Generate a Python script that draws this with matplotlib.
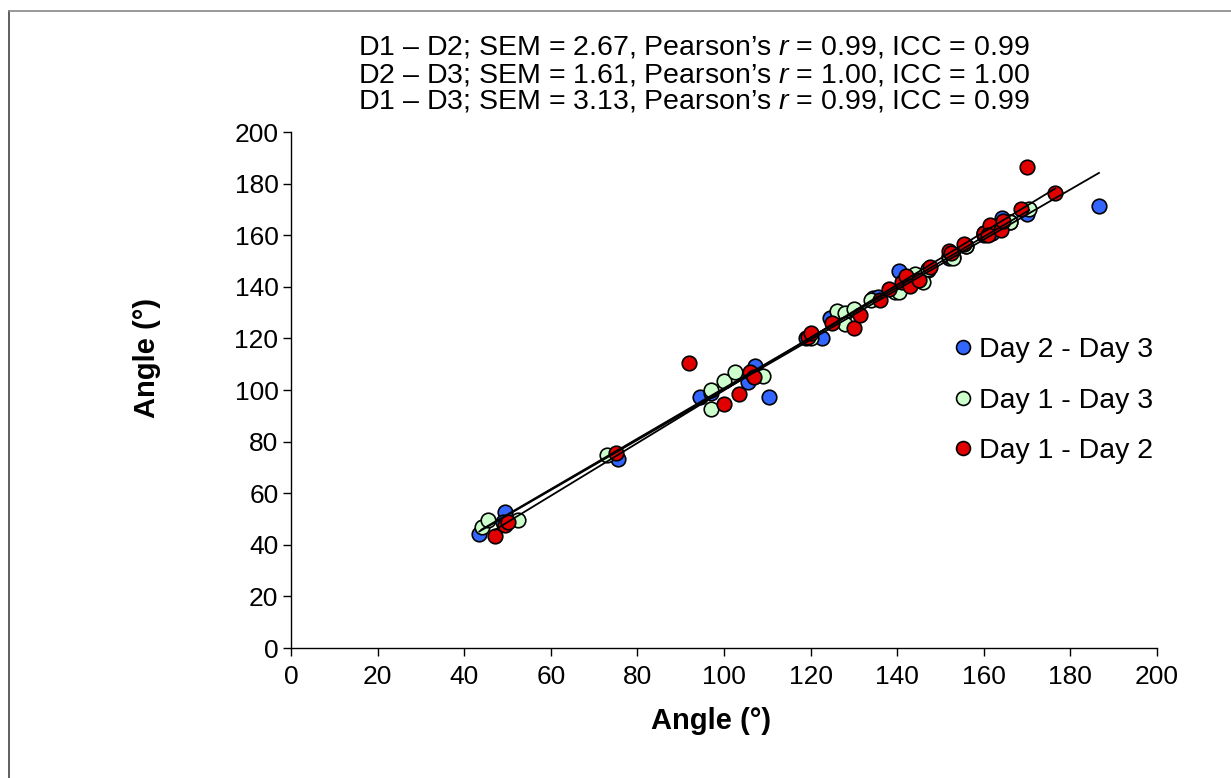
#!/usr/bin/env python3
"""Agreement scatter: angle measured on different days with linear trendlines."""

import matplotlib
matplotlib.use("Agg")
import matplotlib.pyplot as plt
import numpy as np
from matplotlib.lines import Line2D

FONT = ["Liberation Sans", "DejaVu Sans"]
plt.rcParams["font.family"] = FONT
plt.rcParams["mathtext.fontset"] = "custom"
plt.rcParams["mathtext.it"] = "Liberation Sans:italic"
plt.rcParams["mathtext.rm"] = "Liberation Sans"

# Day 2 - Day 3
d23_x = [43.5, 49.5, 49.0, 75.5, 94.5, 97.0, 105.5, 107.2, 110.4, 119.0, 122.6,
         124.5, 134.4, 135.5, 140.4, 142.0, 145.0, 147.1, 152.0, 153.0, 156.0,
         160.0, 162.0, 164.2, 166.0, 170.0, 186.6]
d23_y = [44.2, 52.7, 49.0, 73.3, 97.3, 99.0, 103.1, 109.3, 97.3, 120.0, 120.2,
         127.9, 135.7, 136.0, 146.1, 141.0, 144.0, 146.5, 151.0, 151.5, 156.0,
         160.0, 161.0, 166.6, 165.0, 168.2, 171.3]

# Day 1 - Day 3
d13_x = [44.0, 45.5, 52.5, 73.0, 97.0, 97.0, 100.0, 102.5, 109.0, 120.0, 126.0,
         128.0, 128.0, 130.0, 134.0, 139.5, 140.5, 143.0, 144.0, 146.0, 147.0,
         152.0, 153.0, 156.0, 160.0, 166.0, 170.5]
d13_y = [47.0, 49.5, 49.5, 75.0, 100.0, 92.5, 103.5, 107.0, 105.5, 120.0, 130.5,
         130.0, 125.5, 131.5, 135.0, 138.0, 138.0, 143.0, 145.0, 142.0, 147.0,
         152.0, 151.0, 156.0, 161.0, 165.0, 170.0]

# Day 1 - Day 2
d12_x = [47.0, 49.5, 50.0, 75.0, 92.0, 100.0, 103.5, 106.0, 107.0, 119.5, 120.0,
         125.0, 130.0, 131.5, 136.0, 138.0, 141.0, 142.0, 143.0, 145.0, 147.5,
         152.0, 152.5, 155.5, 160.0, 161.5, 161.0, 164.0, 164.5, 168.5, 170.0,
         176.5]
d12_y = [43.5, 47.5, 49.0, 75.5, 110.5, 94.5, 98.5, 107.0, 105.0, 120.5, 122.0,
         126.0, 124.0, 129.0, 135.0, 139.0, 142.0, 144.0, 140.5, 142.5, 147.5,
         154.0, 153.0, 156.5, 161.0, 164.0, 160.0, 162.0, 165.5, 170.0, 186.5,
         176.5]

SERIES = [
    ("Day 2 - Day 3", d23_x, d23_y, "#3366ff"),
    ("Day 1 - Day 3", d13_x, d13_y, "#ccffcc"),
    ("Day 1 - Day 2", d12_x, d12_y, "#e00000"),
]

STATS = [
    "D1 \u2013 D2; SEM = 2.67, Pearson\u2019s $\\it{r}$ = 0.99, ICC = 0.99",
    "D2 \u2013 D3; SEM = 1.61, Pearson\u2019s $\\it{r}$ = 1.00, ICC = 1.00",
    "D1 \u2013 D3; SEM = 3.13, Pearson\u2019s $\\it{r}$ = 0.99, ICC = 0.99",
]


def main():
    W, H = 1231, 778
    fig = plt.figure(figsize=(W / 100, H / 100), dpi=100)
    ax = fig.add_axes([291 / W, 1 - 648 / H, (1157 - 291) / W, (648 - 132) / H])

    for label, xs, ys, col in SERIES:
        ax.scatter(xs, ys, s=110, c=col, edgecolors="black", linewidths=1.2,
                   zorder=3, label=label)

    # linear trendline per series, drawn over its x range
    for label, xs, ys, col in SERIES:
        xs = np.asarray(xs)
        k, b = np.polyfit(xs, ys, 1)
        xx = np.array([xs.min(), xs.max()])
        ax.plot(xx, k * xx + b, color="black", lw=1.3, zorder=4)

    ax.set_xlim(0, 200)
    ax.set_ylim(0, 200)
    ax.set_xticks(np.arange(0, 201, 20))
    ax.set_yticks(np.arange(0, 201, 20))
    ax.tick_params(labelsize=19, length=6, width=1, direction="out")
    ax.tick_params(axis="y", pad=3)
    ax.tick_params(axis="x", pad=6)
    for side in ("top", "right"):
        ax.spines[side].set_visible(False)
    for side in ("left", "bottom"):
        ax.spines[side].set_linewidth(1)

    ax.set_xlabel("Angle (\u00b0)", fontsize=21, fontweight="bold")
    ax.set_ylabel("Angle (\u00b0)", fontsize=21, fontweight="bold")
    ax.xaxis.set_label_coords((711 - 291) / 866, (648 - 721) / 516)
    ax.yaxis.set_label_coords((147 - 291) / 866, (648 - 358) / 516)
    ax.xaxis.label.set_va("center")
    ax.yaxis.label.set_va("center")

    # three stats lines, 27 px apart
    for i, line in enumerate(STATS):
        fig.text(694 / W, 1 - (45 + 27 * i) / H, line, ha="center",
                 va="center_baseline", fontsize=20.5)

    handles = [Line2D([], [], marker="o", ls="", ms=10, mfc=c, mec="black", mew=1.2)
               for _, _, _, c in SERIES]
    fig.legend(handles, [s[0] for s in SERIES], loc="upper left",
               bbox_to_anchor=(943 / W, 1 - 326 / H), frameon=False,
               fontsize=20.5, handlelength=0.6, handletextpad=0.25,
               labelspacing=0.86, borderaxespad=0)

    # partial frame of the original chart area (top and left edges)
    fig.add_artist(Line2D([9 / W, 9 / W], [0, 1 - 11 / H], color="#444444",
                          lw=1.2, transform=fig.transFigure))
    fig.add_artist(Line2D([9 / W, 1], [1 - 11 / H, 1 - 11 / H], color="#888888",
                          lw=1.2, transform=fig.transFigure))

    fig.savefig("out.png", dpi=100, facecolor="white")
    plt.close(fig)


if __name__ == "__main__":
    main()
